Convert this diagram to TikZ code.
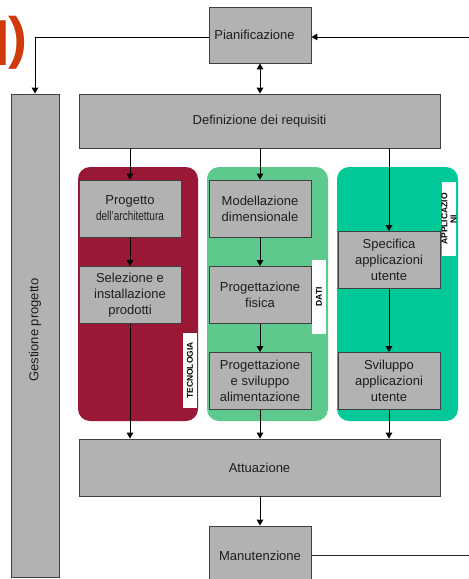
\documentclass[tikz,border=0pt]{standalone}
\usepackage{fontspec}
\setmainfont{Liberation Sans}
\usetikzlibrary{arrows.meta}
\definecolor{boxgray}{RGB}{178,178,178}
\definecolor{boxline}{RGB}{64,64,64}
\definecolor{txt}{RGB}{30,30,30}
\definecolor{colred}{RGB}{152,24,54}
\definecolor{colgreen}{RGB}{94,201,140}
\definecolor{colteal}{RGB}{0,200,150}
\definecolor{titlered}{RGB}{208,58,10}
\begin{document}
\begin{tikzpicture}[x=1pt,y=-1pt,
  box/.style={draw=boxline,line width=0.8pt,fill=boxgray,inner sep=0pt,align=center,
    text=txt,font=\fontsize{13}{16}\selectfont},
  cbox/.style={box,minimum width=102pt,minimum height=57pt},
  lane/.style={rounded corners=12pt,draw=none},
  tag/.style={fill=white,inner sep=0pt,minimum width=74pt,minimum height=14pt,rotate=90,
    align=center,font=\fontsize{8.5}{9}\selectfont\bfseries},
  arr/.style={line width=0.9pt,-{Triangle[length=6pt,width=6.5pt]}},
  darr/.style={line width=0.9pt,{Triangle[length=6pt,width=6.5pt]}-{Triangle[length=6pt,width=6.5pt]}},
  ln/.style={line width=1pt,draw=black!85}]
\useasboundingbox (0,0) rectangle (469,579);
\begin{scope}
\clip (0,0) rectangle (469,579);
% title fragment
\node[anchor=base east,inner sep=0pt,text=titlered,font=\fontsize{65}{65}\selectfont\bfseries] (ttli) at (10.5,65) {I};
\node[anchor=base east,inner sep=0pt,text=titlered,font=\fontsize{57}{57}\selectfont\bfseries] (ttlp) at (28,57) {)};
% lanes
\fill[lane,colred] (78,167) rectangle (198,421);
\fill[lane,colgreen] (207,167) rectangle (328,421);
\fill[lane,colteal] (337,167) rectangle (458,421);
% main boxes
\node[box,minimum width=102pt,minimum height=56pt] (plan) at (260,35) {Pianificazione\hspace*{11pt}};
\node[box,minimum width=48pt,minimum height=483pt] (gest) at (35,335.5) {};
\node[rotate=90,text=txt,font=\fontsize{13}{16}\selectfont] (gestt) at (35,330) {Gestione progetto};
\node[box,minimum width=361pt,minimum height=54pt] (def) at (259.5,121) {Definizione dei requisiti};
\node[box,minimum width=361pt,minimum height=57pt] (att) at (259.5,467.5) {Attuazione};
\node[box,minimum width=102pt,minimum height=59pt] (man) at (260,555.5) {Manutenzione};
% column boxes
\node[cbox] (arch) at (130,208.5) {Progetto\\\scalebox{0.77}[1]{dell'architettura}};
\node[cbox] (sel) at (130,295) {Selezione e\\installazione\\prodotti};
\node[cbox] (mod) at (260,208.5) {Modellazione\\dimensionale};
\node[cbox] (fis) at (260,295) {Progettazione\\fisica};
\node[cbox] (ali) at (260,381) {Progettazione\\e sviluppo\\alimentazione};
\node[cbox] (spec) at (389,260) {Specifica\\applicazioni\\utente};
\node[cbox] (svi) at (389,381) {Sviluppo\\applicazioni\\utente};
% tags
\node[tag,minimum width=75pt] (tec) at (190,370.5) {TECNOLOGIA};
\node[tag] (dati) at (319,297) {DATI};
\node[tag] (app) at (449,219) {APPLICAZIO\\NI};
% connectors
\coordinate (rin) at (469,37);
\coordinate (rout) at (469,555);
\draw[arr] ([yshift=-2pt]plan.west) -| (gest.north);
\draw[arr] (rin) -- (rin -| plan.east);
\draw[darr] (plan.south) -- (def.north -| plan.south);
\draw[arr] (def.south -| arch.north) -- (arch.north);
\draw[arr] (arch.south) -- (sel.north);
\draw[arr] (sel.south) -- (att.north -| sel.south);
\draw[arr] (def.south -| mod.north) -- (mod.north);
\draw[arr] (mod.south) -- (fis.north);
\draw[arr] (fis.south) -- (ali.north);
\draw[arr] (ali.south) -- (att.north -| ali.south);
\draw[arr] (def.south -| spec.north) -- (spec.north);
\draw[arr] (spec.south) -- (svi.north);
\draw[arr] (svi.south) -- (att.north -| svi.south);
\draw[arr] (att.south -| man.north) -- (man.north);
\draw[ln] (rout -| man.east) -- (rout);
\end{scope}
\end{tikzpicture}
\end{document}
